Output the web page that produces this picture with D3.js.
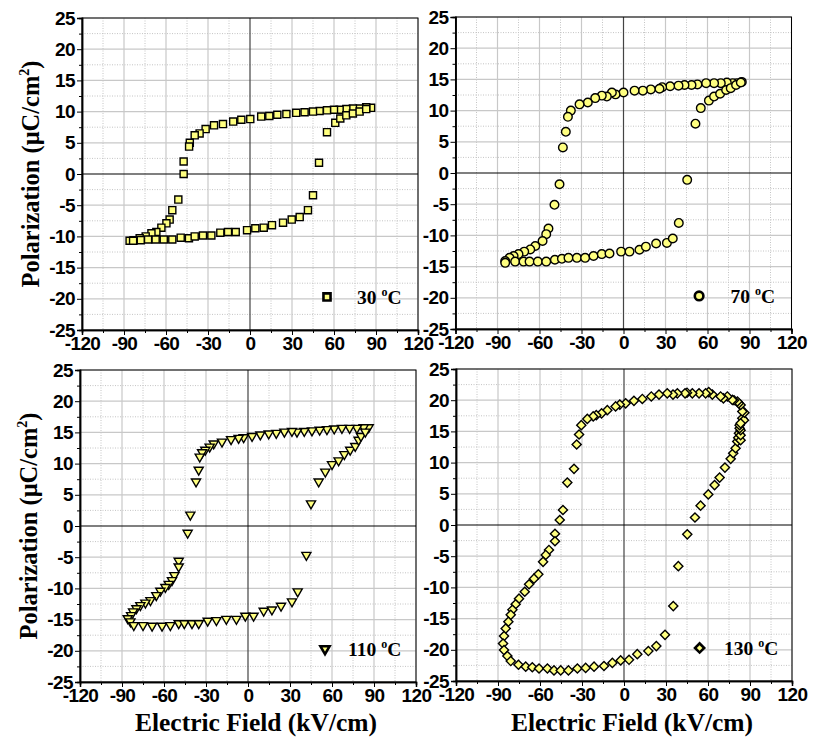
<!DOCTYPE html>
<html>
<head>
<meta charset="utf-8">
<script src="https://cdn.jsdelivr.net/npm/d3@7/dist/d3.min.js"></script>
<style>
body { margin: 0; background: #fff; }
</style>
</head>
<body>
<div id="chart"></div>
<script>
var xTicks = [-120, -90, -60, -30, 0, 30, 60, 90, 120];
var yTicks = [-25, -20, -15, -10, -5, 0, 5, 10, 15, 20, 25];
var tempLabels = ["30", "70", "110", "130"];

// 30 C loop
var field30 = [86.5, 83, 78.3, 73.5, 68.8, 64, 60, 55, 49.7, 45, 39, 33, 26, 19.5, 13.8, 8, 0.2, -6.2, -12, -19.3, -25.7, -31.7, -36, -39.5, -43, -43.5, -47.4, -47.4, -51.2, -55.5, -57.4, -59.7, -63.3, -66.9, -70.4, -74.5, -78.8, -83, -86,
  -83.5, -78, -72.8, -67.4, -61.6, -55.5, -49.5, -43.6, -39.5, -33.6, -27.6, -21.2, -15.7, -10.2, -2.1, 3.8, 9.8, 15.7, 23.6, 29.8, 35.5, 41.4, 45, 49.3, 55, 60.9, 64.5, 68.8, 73.5, 78.3, 83];
var pol30 = [10.6, 10.7, 10.5, 10.5, 10.4, 10.3, 10.3, 10.2, 10.1, 10, 9.9, 9.8, 9.6, 9.5, 9.3, 9.2, 8.8, 8.7, 8.4, 8.0, 7.8, 7.2, 6.5, 6.2, 5.0, 4.4, 2.0, 0, -4.1, -5.8, -7.3, -7.9, -8.6, -9.3, -9.5, -10.0, -10.3, -10.6, -10.7,
  -10.7, -10.6, -10.5, -10.5, -10.5, -10.5, -10.2, -10.3, -10.0, -9.85, -9.85, -9.4, -9.3, -9.3, -9.0, -8.7, -8.6, -8.2, -7.8, -7.3, -6.9, -5.8, -3.4, 1.8, 6.7, 8.2, 8.9, 9.4, 9.7, 10.0, 10.4];

// 70 C loop
var field70 = [84.5, 81, 78, 73.8, 69.5, 64.7, 59, 52.8, 48.6, 43.6, 39.3, 33.3, 27.6, 25.7, 19.5, 13.8, 7.9, 0, -5.7, -8.3, -11.9, -15.5, -20.2, -25.5, -31.4, -37.6, -39.7, -41.2, -43.3, -45.7, -49.3, -53.6, -55.2, -57.8, -63, -66.6, -70.9, -75, -78.5, -81.4, -84.5,
  -84.5, -77.4, -71.4, -67.1, -61.2, -55.2, -49, -44, -39.3, -33.3, -27.4, -21.4, -15.5, -10, -1.7, 4.3, 11.4, 16, 23.3, 31, 35.2, 39.5, 45.5, 51.4, 55.2, 61, 64.7, 69, 73.3, 76.6, 80.4, 83.8];
var pol70 = [14.6, 14.4, 14.4, 14.5, 14.4, 14.4, 14.4, 14.2, 14.1, 14.1, 14.0, 13.9, 13.75, 13.5, 13.4, 13.2, 13.2, 12.9, 12.6, 12.9, 12.25, 12.4, 12.0, 11.3, 11.0, 10.0, 9.0, 6.6, 4.1, -1.8, -5.1, -8.9, -9.8, -10.9, -11.7, -12.25, -12.6, -13.0, -13.3, -13.6, -14.1,
  -14.4, -14.2, -14.2, -14.2, -14.2, -14.2, -13.9, -13.75, -13.6, -13.6, -13.6, -13.3, -13.0, -12.9, -12.6, -12.6, -12.3, -11.8, -11.3, -11.2, -10.5, -8.0, -1.1, 7.9, 10.4, 11.6, 12.25, 12.7, 13.3, 13.6, 14.1, 14.5];

// 110 C loop
var field110 = [86.2, 82.6, 77.8, 72.6, 67.1, 61.6, 56.4, 51.2, 45.7, 40.2, 35, 31.4, 26, 20.2, 14.8, 8.8, 2.9, -3.1, -6.7, -12.1, -18.6, -24.5, -27.4, -30.5, -32.8, -34.5, -35.2, -37.1, -41.2, -43.1, -49.5, -49.5, -52.6, -54.3, -56.6, -59, -62.6, -65.5, -69.7, -73.3, -76.9, -79.7, -82.1, -83.5, -85.9,
  -84, -81.6, -75, -68.5, -61.4, -55.5, -49.5, -45.5, -40, -35.2, -28.8, -22.6, -15.5, -8.3, -1.9, 4, 11.2, 17.1, 23.6, 31.4, 35.5, 41.7, 45, 50.5, 55.2, 60, 64.7, 68.8, 73, 76.6, 79, 80.7, 83.8];
var pol110 = [15.8, 15.8, 15.7, 15.7, 15.7, 15.6, 15.5, 15.4, 15.3, 15.2, 15.1, 15.2, 15.1, 14.9, 14.8, 14.65, 14.4, 14.2, 14.1, 13.9, 13.5, 13.2, 12.7, 12.2, 11.8, 11.1, 9.0, 7.1, 1.8, -1.1, -5.6, -6.5, -7.9, -8.7, -9.3, -9.8, -10.4, -11.1, -11.9, -12.3, -12.7, -13.2, -13.7, -14.3, -14.8,
  -15.3, -15.9, -15.9, -16.0, -16.0, -15.9, -15.6, -15.6, -15.6, -15.6, -15.2, -15.1, -14.9, -14.9, -14.4, -14.4, -13.6, -13.4, -12.8, -12.1, -10.5, -4.65, 3.6, 7.1, 8.7, 9.9, 10.5, 11.5, 12.2, 12.8, 13.8, 14.4, 15.1];

// 130 C loop
var field130 = [84.5, 85.7, 86, 84.5, 83.3, 82, 81, 78.6, 77.4, 73.8, 71, 69, 63.1, 60.5, 58.3, 53.6, 48.8, 45, 43.6, 38.1, 35, 30.9, 25, 19.5, 13.1, 7.1, 1.2, -3, -6, -11.9, -16, -19.8, -22, -26.2, -30.5, -32.1, -33.8,
  -35.7, -40.5, -43.6, -45.9, -49.3, -49.3, -53.6, -55.9, -57.8, -61.2, -64.3, -67.8, -70.9, -75, -77.4, -79.7, -80.9, -82.6, -84.5, -85.7, -86.4, -85.7, -83.3, -80.9,
  -75.4, -70.2, -65.5, -60.7, -54.7, -50, -45.2, -39.7, -33.3, -27.4, -21.4, -14.3, -8.3, -2.4, 3.6, 9.5, 17.4, 23.1, 29.3, 35.2, 38.8, 45.2, 50.7, 54.7, 60.2, 64.7, 68.3, 72.1, 76.2, 78, 79.7, 80.9, 81.6, 82.1, 83.3, 83.3, 83.3, 82.6, 82.6, 83.3];
var pol130 = [17.1, 16.8, 18.0, 18.2, 19.25, 19.5, 19.8, 20.0, 20.05, 20.6, 20.3, 20.6, 20.9, 21.3, 21.1, 21.1, 21.1, 21.2, 21.1, 21.1, 20.9, 21.1, 20.9, 20.6, 20.2, 19.9, 19.5, 19.3, 19.0, 18.4, 17.9, 17.6, 17.4, 17.0, 16.0, 14.5, 12.9,
  9.0, 6.8, 2.4, 0.8, -1.4, -2.6, -4.0, -4.8, -5.9, -7.9, -8.6, -9.5, -10.7, -11.8, -12.7, -13.6, -14.4, -15.5, -16.6, -17.8, -19.0, -20.05, -21.0, -21.8,
  -22.4, -22.7, -22.8, -23.0, -23.0, -23.3, -23.3, -23.3, -23.0, -22.9, -22.7, -22.6, -22.1, -21.7, -21.6, -20.7, -20.2, -19.4, -17.6, -13.0, -6.6, -1.5, 1.2, 3.1, 4.9, 6.4, 7.6, 9.2, 10.6, 11.5, 12.3, 13.4, 14.0, 14.7, 13.6, 14.4, 15.2, 15.5, 16.0, 16.3];

var panels = [
  {fx: field30, py: pol30, shape: "square", label: tempLabels[0], left: 82, top: 18, yTitle: true, xTitle: false},
  {fx: field70, py: pol70, shape: "circle", label: tempLabels[1], left: 455.5, top: 17, yTitle: false, xTitle: false},
  {fx: field110, py: pol110, shape: "triangle", label: tempLabels[2], left: 80, top: 370, yTitle: true, xTitle: true},
  {fx: field130, py: pol130, shape: "diamond", label: tempLabels[3], left: 456, top: 369, yTitle: false, xTitle: true}
];

var W = 336, H = 312;
var fillCol = "#ffff80";

let svg = d3.select("#chart")
    .append("svg")
    .attr("width", 819)
    .attr("height", 740)

function symbolPath(shape) {
  if (shape == "square") return d3.symbol(d3.symbolSquare, 50)();
  if (shape == "circle") return d3.symbol(d3.symbolCircle, 58)();
  if (shape == "triangle") return d3.symbol(d3.symbolTriangle, 36)();
  return d3.symbol(d3.symbolSquare, 42)();
}
function symbolRot(shape) {
  if (shape == "triangle") return " rotate(180)";
  if (shape == "diamond") return " rotate(45)";
  return "";
}

panels.forEach(function(p) {
  var x = d3.scaleLinear().domain([-120, 120]).range([0, W]);
  var y = d3.scaleLinear().domain([-25, 25]).range([H, 0]);
  var g = svg.append("g").attr("transform", "translate(" + p.left + "," + p.top + ")");

  // minor grid
  var xMinor = d3.range(-105, 120, 30);
  var yMinor = d3.range(-22.5, 25, 5);
  g.selectAll(".gxm").data(xMinor).enter().append("line")
      .attr("x1", d => x(d)).attr("x2", d => x(d)).attr("y1", 0).attr("y2", H)
      .attr("stroke", "#c4c4c4").attr("stroke-width", 1).attr("stroke-dasharray", "1,1.5")
  g.selectAll(".gym").data(yMinor).enter().append("line")
      .attr("x1", 0).attr("x2", W).attr("y1", d => y(d)).attr("y2", d => y(d))
      .attr("stroke", "#c4c4c4").attr("stroke-width", 1).attr("stroke-dasharray", "1,1.5")
  // major grid
  g.selectAll(".gx").data(xTicks.filter(d => d != 0)).enter().append("line")
      .attr("x1", d => x(d)).attr("x2", d => x(d)).attr("y1", 0).attr("y2", H)
      .attr("stroke", "#c8c8c8").attr("stroke-width", 1.2)
  g.selectAll(".gy").data(yTicks.filter(d => d != 0)).enter().append("line")
      .attr("x1", 0).attr("x2", W).attr("y1", d => y(d)).attr("y2", d => y(d))
      .attr("stroke", "#c8c8c8").attr("stroke-width", 1.2)
  // zero lines
  g.append("line").attr("x1", x(0)).attr("x2", x(0)).attr("y1", 0).attr("y2", H)
      .attr("stroke", "#444").attr("stroke-width", 1.2)
  g.append("line").attr("x1", 0).attr("x2", W).attr("y1", y(0)).attr("y2", y(0))
      .attr("stroke", "#000").attr("stroke-width", 1.2)

  // frame
  g.append("rect").attr("width", W).attr("height", H)
      .attr("fill", "none").attr("stroke", "#000").attr("stroke-width", 1)

  // axes
  var ax = g.append("g").attr("transform", "translate(0," + H + ")")
      .call(d3.axisBottom(x).tickValues(xTicks).tickSize(5).tickPadding(2).tickFormat(d3.format("d")));
  g.append("g").attr("transform", "translate(0," + H + ")")
      .call(d3.axisBottom(x).tickValues(xMinor).tickSize(3).tickFormat(""));
  var ay = g.append("g")
      .call(d3.axisLeft(y).tickValues(yTicks).tickSize(5).tickPadding(2).tickFormat(d3.format("d")));
  g.append("g")
      .call(d3.axisLeft(y).tickValues(yMinor).tickSize(3).tickFormat(""));
  g.selectAll(".domain").attr("stroke", "#000").attr("stroke-width", 1.5);
  g.selectAll(".tick line").attr("stroke", "#000").attr("stroke-width", 1);
  g.selectAll(".tick text")
      .style("font-family", "'Liberation Sans', Arial, sans-serif")
      .style("font-weight", "bold")
      .style("font-size", "19px")
      .style("letter-spacing", "-0.6px")
      .attr("fill", "#000")
  ax.selectAll(".tick text").text(d => d < 0 ? "-" + Math.abs(d) : d);
  ay.selectAll(".tick text").text(d => d < 0 ? "-" + Math.abs(d) : d);

  // points
  var pts = p.fx.map((d, i) => [d, p.py[i]]);
  var sp = symbolPath(p.shape), rot = symbolRot(p.shape);
  g.selectAll(".pt").data(pts).enter().append("path")
      .attr("d", sp)
      .attr("transform", d => "translate(" + x(d[0]) + "," + y(d[1]) + ")" + rot)
      .attr("fill", fillCol).attr("stroke", "#000").attr("stroke-width", 1.4)

  // legend
  g.append("path").attr("d", sp)
      .attr("transform", "translate(" + (x(p.shape == "square" || p.shape == "triangle" ? 55 : 54)) + "," + y(-19.7) + ")" + rot)
      .attr("fill", fillCol).attr("stroke", "#000").attr("stroke-width", 2.6)
  var lt = g.append("text")
      .attr("x", p.label.length == 2 ? x(76.5) : x(71.5))
      .attr("y", y(-20.9))
      .style("font-family", "'Liberation Serif', 'Times New Roman', serif")
      .style("font-weight", "bold")
      .style("font-size", "19.5px")
  lt.append("tspan").text(p.label + " ");
  lt.append("tspan").attr("dy", -8).style("font-size", "12px").text("o");
  lt.append("tspan").attr("dy", 8).text("C");

  // titles
  if (p.yTitle) {
    svg.append("text")
      .attr("transform", "translate(" + (p.left - 43) + "," + (p.top + H / 2) + ") rotate(-90)")
      .attr("text-anchor", "middle")
      .style("font-family", "'Liberation Serif', 'Times New Roman', serif")
      .style("font-weight", "bold")
      .style("font-size", "24.5px")
      .html("Polarization (&#956;C/cm<tspan dy='-10' font-size='14px'>2</tspan><tspan dy='10'>)</tspan>")
  }
  if (p.xTitle) {
    svg.append("text")
      .attr("x", p.left + W / 2 + 8)
      .attr("y", 731)
      .attr("text-anchor", "middle")
      .style("font-family", "'Liberation Serif', 'Times New Roman', serif")
      .style("font-weight", "bold")
      .style("font-size", "25.5px")
      .text("Electric Field (kV/cm)")
  }
});
</script>
</body>
</html>
